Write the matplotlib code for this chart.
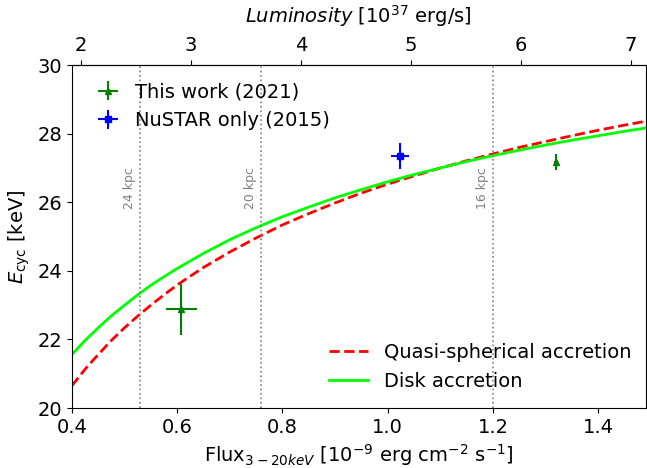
import numpy as np
import matplotlib
matplotlib.use("Agg")
import matplotlib.pyplot as plt

# model curves
flux_grid = [0.400, 0.425, 0.450, 0.475, 0.500, 0.525, 0.550, 0.575, 0.60, 0.65, 0.70, 0.75,
             0.80, 0.85, 0.90, 0.95, 1.00, 1.05, 1.10, 1.15, 1.20, 1.25, 1.30, 1.35,
             1.40, 1.45, 1.50]
e_quasi = [20.65, 21.13, 21.56, 21.97, 22.34, 22.68, 23.00, 23.30, 23.59, 24.10, 24.55, 24.96,
           25.34, 25.67, 25.98, 26.27, 26.53, 26.77, 27.00, 27.21, 27.41, 27.60, 27.77, 27.94,
           28.10, 28.25, 28.39]
e_disk = [21.56, 21.97, 22.34, 22.69, 23.00, 23.30, 23.58, 23.83, 24.07, 24.51, 24.91, 25.26,
          25.58, 25.86, 26.13, 26.37, 26.60, 26.81, 27.00, 27.19, 27.36, 27.52, 27.67, 27.81,
          27.94, 28.07, 28.19]

# observations
this_flux = [0.608, 1.32]
this_flux_err = [0.03, 0.004]
this_e = [22.88, 27.18]
this_e_err = [0.75, 0.24]

nustar_flux = [1.023]
nustar_flux_err = [0.017]
nustar_e = [27.35]
nustar_e_err = [0.38]

# distances marked with dotted lines
dist_labels = ['24 kpc', '20 kpc', '16 kpc']
dist_flux = [0.53, 0.76, 1.2]

lum_per_flux = 4.79  # 4 pi (20 kpc)^2, in 1e37 erg/s per 1e-9 erg/cm2/s

fig = plt.figure(figsize=(6.47, 4.68), dpi=100)
ax = fig.add_axes([0.111, 0.128, 0.887, 0.733])

l1, = ax.plot(flux_grid, e_quasi, 'r--', lw=2, label='Quasi-spherical accretion')
l2, = ax.plot(flux_grid, e_disk, '-', color='lime', lw=2, label='Disk accretion')

p1 = ax.errorbar(this_flux, this_e, xerr=this_flux_err, yerr=this_e_err, fmt='^',
                 color='green', ms=5, lw=1.5, label='This work (2021)')
p2 = ax.errorbar(nustar_flux, nustar_e, xerr=nustar_flux_err, yerr=nustar_e_err, fmt='s',
                 color='blue', ms=4, lw=1.5, label='NuSTAR only (2015)')

for lab, f in zip(dist_labels, dist_flux):
    ax.axvline(f, color='gray', ls=':', lw=1.2)
    ax.text(f - 0.008, 26.42, lab, rotation=90, color='gray', fontsize=9,
            ha='right', va='center')

ax.set_xlim(0.4, 1.49)
ax.set_ylim(20, 30)
ax.set_xticks([0.4, 0.6, 0.8, 1.0, 1.2, 1.4])
ax.tick_params(labelsize=14)
ax.set_xlabel(r'Flux$_{3-20keV}$ [10$^{-9}$ erg cm$^{-2}$ s$^{-1}$]', fontsize=14)
ax.set_ylabel(r'$E_{\rm cyc}$ [keV]', fontsize=14)

leg1 = ax.legend(handles=[p1, p2], loc='upper left', bbox_to_anchor=(0.012, 1.0),
                 frameon=False, fontsize=14, handlelength=1.2)
ax.add_artist(leg1)
ax.legend(handles=[l1, l2], loc='lower right', bbox_to_anchor=(1.005, 0.0),
          frameon=False, fontsize=14)

top = ax.secondary_xaxis('top', functions=(lambda f: f * lum_per_flux,
                                           lambda l: l / lum_per_flux))
top.set_xticks([2, 3, 4, 5, 6, 7])
top.tick_params(labelsize=14)
top.set_xlabel(r'$Luminosity$ [10$^{37}$ erg/s]', fontsize=14, labelpad=10)

fig.savefig('out.png', dpi=100)
